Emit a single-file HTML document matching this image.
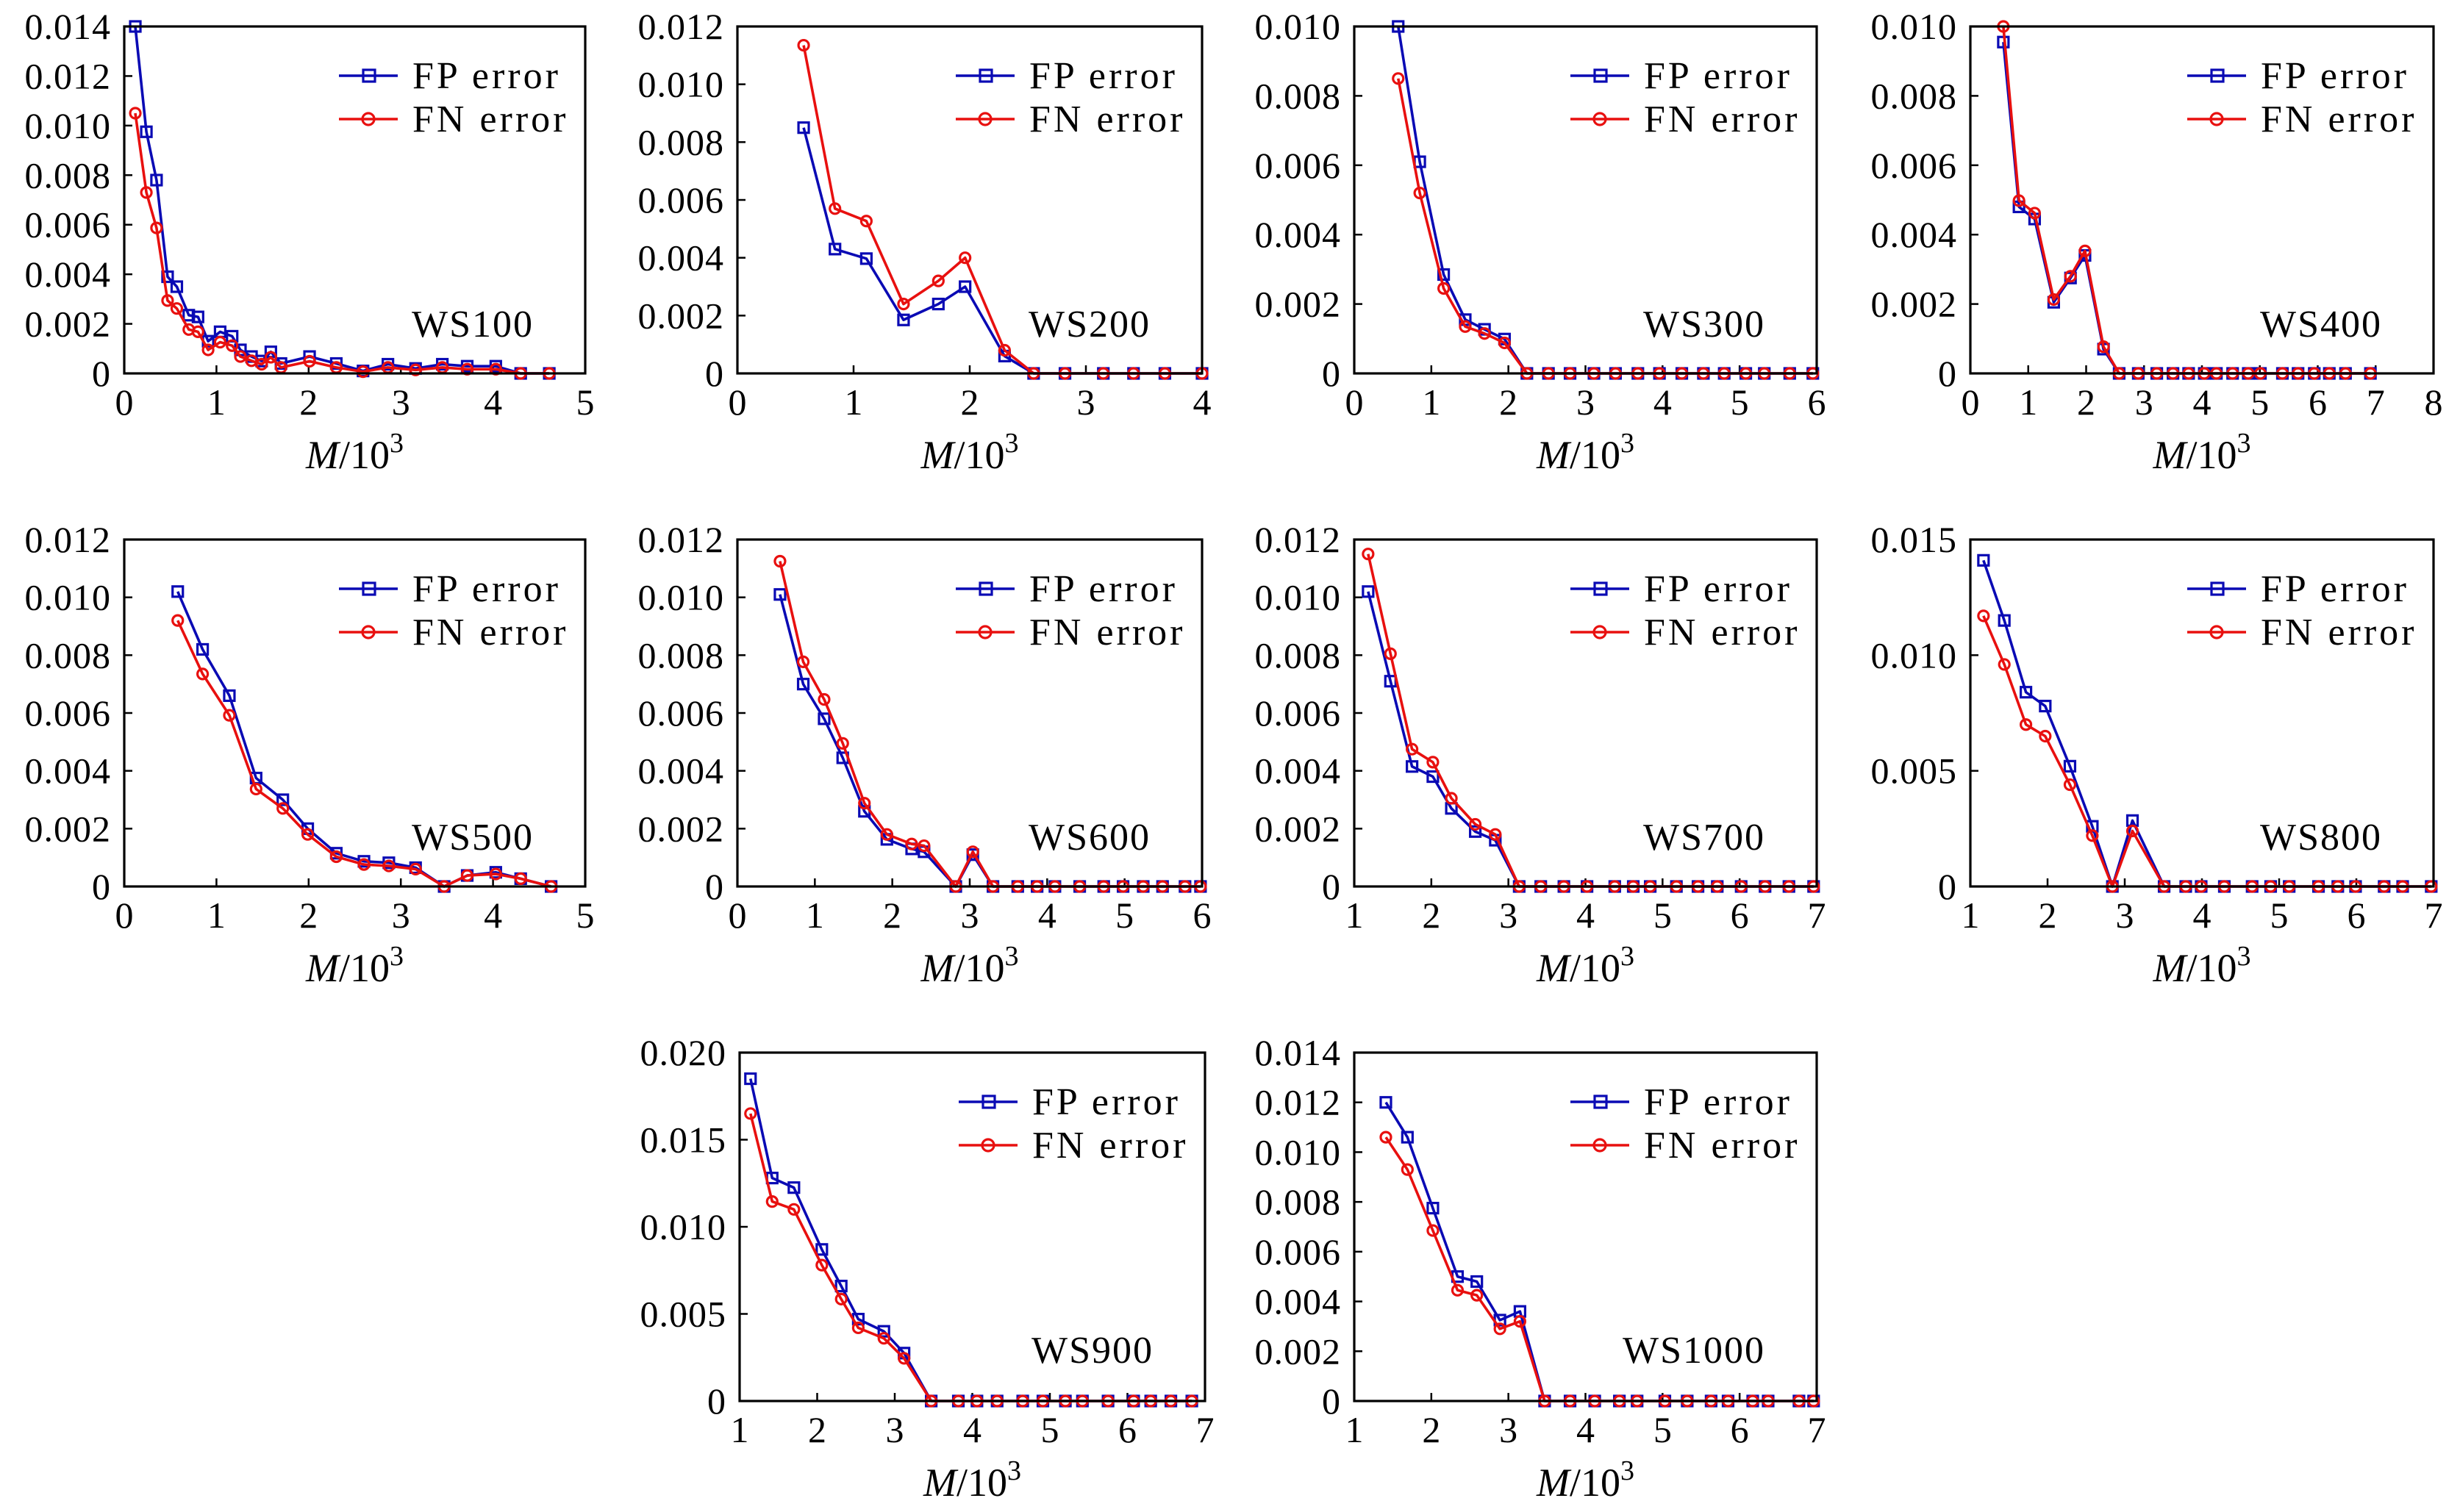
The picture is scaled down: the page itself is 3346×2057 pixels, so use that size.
<!DOCTYPE html>
<html><head><meta charset="utf-8">
<style>
html,body{margin:0;padding:0;background:#fff;}
svg{display:block;font-family:"Liberation Serif","DejaVu Serif",serif;}
svg text{font-family:"Liberation Serif","DejaVu Serif",serif !important;fill:#000;}
</style></head>
<body>
<svg id="fig" width="3346" height="2057" viewBox="0 0 3346 2057" xmlns="http://www.w3.org/2000/svg"><g id="root"></g></svg>
<script>
// ---- data arrays (x in M/10^3, y in units of 1e-3) ----
const ws100X  = [0.12,0.24,0.35,0.47,0.57,0.70,0.80,0.91,1.04,1.17,1.26,1.38,1.49,1.59,1.70,2.01,2.30,2.59,2.86,3.16,3.45,3.72,4.03,4.30,4.61];
const ws100FP = [14.0,9.75,7.8,3.9,3.5,2.35,2.28,1.3,1.68,1.5,0.95,0.68,0.5,0.87,0.4,0.68,0.4,0.1,0.37,0.2,0.37,0.29,0.29,0,0];
const ws100FN = [10.5,7.3,5.87,2.94,2.62,1.77,1.68,0.95,1.26,1.12,0.68,0.51,0.37,0.65,0.24,0.49,0.24,0.07,0.24,0.14,0.24,0.17,0.17,0,0];

const ws200X  = [0.57,0.84,1.11,1.43,1.73,1.96,2.30,2.55,2.82,3.15,3.41,3.68,4.0];
const ws200FP = [8.5,4.3,3.97,1.85,2.4,3.0,0.6,0,0,0,0,0,0];
const ws200FN = [11.35,5.7,5.27,2.4,3.2,4.0,0.8,0,0,0,0,0,0];

const ws300X  = [0.57,0.85,1.16,1.44,1.69,1.95,2.24,2.52,2.8,3.11,3.39,3.68,3.96,4.25,4.53,4.8,5.08,5.32,5.65,5.95];
const ws300FP = [10.0,6.1,2.85,1.55,1.27,0.99,0,0,0,0,0,0,0,0,0,0,0,0,0,0];
const ws300FN = [8.5,5.2,2.45,1.35,1.15,0.88,0,0,0,0,0,0,0,0,0,0,0,0,0,0];

const ws400X  = [0.57,0.84,1.11,1.44,1.73,1.98,2.3,2.57,2.9,3.22,3.5,3.77,4.04,4.25,4.53,4.8,5.01,5.39,5.66,5.94,6.2,6.48,6.91];
const ws400FP = [9.55,4.8,4.45,2.05,2.75,3.4,0.7,0,0,0,0,0,0,0,0,0,0,0,0,0,0,0,0];
const ws400FN = [10.0,4.98,4.62,2.13,2.8,3.53,0.77,0,0,0,0,0,0,0,0,0,0,0,0,0,0,0,0];

const ws500X  = [0.58,0.85,1.14,1.43,1.72,1.99,2.3,2.6,2.87,3.16,3.47,3.72,4.03,4.3,4.63];
const ws500FP = [10.2,8.2,6.6,3.75,3.0,2.0,1.15,0.87,0.82,0.65,0,0.38,0.49,0.27,0];
const ws500FN = [9.2,7.35,5.92,3.37,2.7,1.8,1.03,0.76,0.71,0.6,0,0.38,0.43,0.27,0];

const ws600X  = [0.55,0.85,1.12,1.36,1.64,1.93,2.25,2.41,2.82,3.04,3.30,3.62,3.87,4.10,4.42,4.73,4.98,5.24,5.49,5.78,5.98];
const ws600FP = [10.1,7.0,5.8,4.45,2.6,1.63,1.3,1.2,0,1.1,0,0,0,0,0,0,0,0,0,0,0];
const ws600FN = [11.25,7.77,6.47,4.95,2.88,1.8,1.47,1.41,0,1.2,0,0,0,0,0,0,0,0,0,0,0];

const ws700X  = [1.18,1.47,1.75,2.02,2.26,2.57,2.83,3.14,3.42,3.72,4.02,4.38,4.62,4.84,5.18,5.46,5.71,6.02,6.33,6.64,6.96];
const ws700FP = [10.2,7.1,4.15,3.8,2.7,1.9,1.6,0,0,0,0,0,0,0,0,0,0,0,0,0,0];
const ws700FN = [11.5,8.05,4.75,4.3,3.05,2.15,1.8,0,0,0,0,0,0,0,0,0,0,0,0,0,0];

const ws800X  = [1.17,1.44,1.72,1.97,2.29,2.58,2.84,3.10,3.51,3.79,3.99,4.29,4.65,4.89,5.13,5.51,5.76,5.99,6.36,6.60,6.97];
const ws800FP = [14.1,11.5,8.4,7.8,5.2,2.6,0,2.85,0,0,0,0,0,0,0,0,0,0,0,0,0];
const ws800FN = [11.7,9.6,7.0,6.5,4.4,2.2,0,2.4,0,0,0,0,0,0,0,0,0,0,0,0,0];

const ws900X  = [1.14,1.42,1.70,2.06,2.31,2.53,2.86,3.12,3.47,3.82,4.06,4.32,4.65,4.91,5.2,5.42,5.75,6.08,6.3,6.56,6.83];
const ws900FP = [18.5,12.8,12.25,8.7,6.6,4.7,4.0,2.75,0,0,0,0,0,0,0,0,0,0,0,0,0];
const ws900FN = [16.5,11.45,11.0,7.8,5.85,4.2,3.6,2.45,0,0,0,0,0,0,0,0,0,0,0,0,0];

const ws1000X  = [1.41,1.69,2.02,2.34,2.59,2.89,3.15,3.47,3.80,4.12,4.44,4.67,5.03,5.32,5.63,5.85,6.17,6.37,6.77,6.96];
const ws1000FP = [12.0,10.6,7.75,5.0,4.8,3.25,3.6,0,0,0,0,0,0,0,0,0,0,0,0,0];
const ws1000FN = [10.6,9.3,6.85,4.45,4.25,2.9,3.2,0,0,0,0,0,0,0,0,0,0,0,0,0];

const panelTitles = ["WS100","WS200","WS300","WS400","WS500","WS600","WS700","WS800","WS900","WS1000"];
const xTickLabels = [["0","1","2","3","4","5"],["0","1","2","3","4"],["0","1","2","3","4","5","6"],["0","1","2","3","4","5","6","7","8"],
  ["0","1","2","3","4","5"],["0","1","2","3","4","5","6"],["1","2","3","4","5","6","7"],["1","2","3","4","5","6","7"],
  ["1","2","3","4","5","6","7"],["1","2","3","4","5","6","7"]];
const yTickLabels = [["0","0.002","0.004","0.006","0.008","0.010","0.012","0.014"],
  ["0","0.002","0.004","0.006","0.008","0.010","0.012"],
  ["0","0.002","0.004","0.006","0.008","0.010"],
  ["0","0.002","0.004","0.006","0.008","0.010"],
  ["0","0.002","0.004","0.006","0.008","0.010","0.012"],
  ["0","0.002","0.004","0.006","0.008","0.010","0.012"],
  ["0","0.002","0.004","0.006","0.008","0.010","0.012"],
  ["0","0.005","0.010","0.015"],
  ["0","0.005","0.010","0.015","0.020"],
  ["0","0.002","0.004","0.006","0.008","0.010","0.012","0.014"]];
const seriesX  = [ws100X,ws200X,ws300X,ws400X,ws500X,ws600X,ws700X,ws800X,ws900X,ws1000X];
const seriesFP = [ws100FP,ws200FP,ws300FP,ws400FP,ws500FP,ws600FP,ws700FP,ws800FP,ws900FP,ws1000FP];
const seriesFN = [ws100FN,ws200FN,ws300FN,ws400FN,ws500FN,ws600FN,ws700FN,ws800FN,ws900FN,ws1000FN];

// ---- layout ----
const boxes = [[169,36,796,508],[1003,36,1635,508],[1842,36,2471,508],[2680,36,3310,508],
  [169,734,796,1206],[1003,734,1635,1206],[1842,734,2471,1206],[2680,734,3310,1206],
  [1006,1432,1639,1906],[1842,1432,2471,1906]];
const BLUE="#0a0ab4", RED="#e8100f";
const FONT="'Liberation Serif', 'DejaVu Serif', serif";
const NS="http://www.w3.org/2000/svg";
const root=document.getElementById('root');
function mk(tag,attrs,parent){const e=document.createElementNS(NS,tag);for(const k in attrs)e.setAttribute(k,attrs[k]);if(tag==='text')e.setAttribute('font-family',FONT);(parent||root).appendChild(e);return e;}

boxes.forEach((b,i)=>{
  const [L,T,R,B]=b;
  const g=mk('g',{});
  
  
  const xl=xTickLabels[i], yl=yTickLabels[i];
  const x0=+xl[0], x1=+xl[xl.length-1], y1=+yl[yl.length-1]*1000;
  const sx=v=>L+(v-x0)/(x1-x0)*(R-L);
  const sy=v=>B-(v/y1)*(B-T);
  xl.forEach((t,k)=>{const x=sx(+t);
    if(k>0&&k<xl.length-1){const tk=mk('line',{x1:x,y1:B,x2:x,y2:B-11,stroke:'#000','stroke-width':2.5},g);
      }
    const tx=mk('text',{x:x,y:B+56,'text-anchor':'middle','font-size':50},g);tx.textContent=t;
    });
  yl.forEach((t,k)=>{const y=sy(+t*1000);
    if(k>0&&k<yl.length-1){const tk=mk('line',{x1:L,y1:y,x2:L+11,y2:y,stroke:'#000','stroke-width':2.5},g);
      }
    const tx=mk('text',{x:L-18,y:y+17,'text-anchor':'end','font-size':50,'letter-spacing':1},g);tx.textContent=t;
    });
  const draw=(ys,color,kind,nm)=>{
    const xs=seriesX[i];
    const pts=xs.map((x,k)=>sx(x).toFixed(1)+','+sy(ys[k]).toFixed(1)).join(' ');
    const pl=mk('polyline',{points:pts,fill:'none',stroke:color,'stroke-width':3.6,'stroke-linejoin':'round'},g);
    
    xs.forEach((x,k)=>{const cx=sx(x),cy=sy(ys[k]);let m;
      if(kind==='sq') m=mk('rect',{x:cx-7,y:cy-7,width:14,height:14,fill:'none',stroke:color,'stroke-width':3.2},g);
      else m=mk('circle',{cx:cx,cy:cy,r:7,fill:'none',stroke:color,'stroke-width':3.2},g);
      });
  };
  draw(seriesFP[i],BLUE,'sq','fp-error');
  draw(seriesFN[i],RED,'ci','fn-error');
  const fr=mk('rect',{x:L,y:T,width:R-L,height:B-T,fill:'none',stroke:'#000','stroke-width':3.2},g);
  
  const lg=mk('g',{},g);
  
  [[BLUE,'sq','FP error',67],[RED,'ci','FN error',126]].forEach(([c,k,lab,dy])=>{
    const y=T+dy;
    const en=mk('g',{},lg);
    
    mk('line',{x1:R-335,y1:y,x2:R-255,y2:y,stroke:c,'stroke-width':3.6},en);
    if(k==='sq') mk('rect',{x:R-302,y:y-8,width:16,height:16,fill:'none',stroke:c,'stroke-width':3.2},en);
    else mk('circle',{cx:R-295,cy:y,r:8,fill:'none',stroke:c,'stroke-width':3.2},en);
    const t=mk('text',{x:R-235,y:y+17,'font-size':52,'letter-spacing':4},en);t.textContent=lab;
  });
  const tt=mk('text',{x:R-70,y:T+422,'text-anchor':'end','font-size':52,'letter-spacing':2},g);
  tt.textContent=panelTitles[i];
  
  const ax=mk('text',{x:(L+R)/2,y:B+129,'text-anchor':'middle','font-size':54},g);
  ax.innerHTML='<tspan font-style="italic">M</tspan>/10<tspan font-size="38" dy="-22">3</tspan>';
  
});
</script>
</body></html>
